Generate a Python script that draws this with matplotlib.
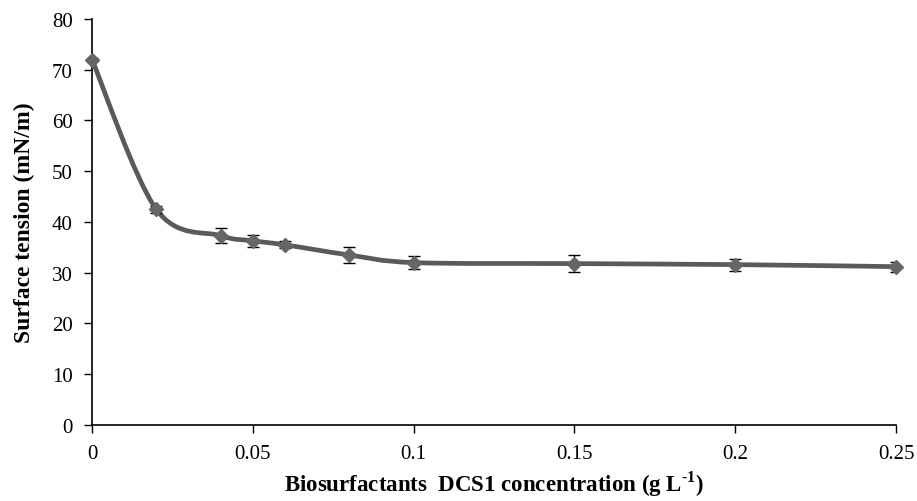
import matplotlib.pyplot as plt
import numpy as np
from matplotlib.path import Path
from matplotlib.patches import PathPatch

# Surface tension vs biosurfactant concentration
conc = [0.0, 0.02, 0.04, 0.05, 0.06, 0.08, 0.10, 0.15, 0.20, 0.25]
tension = [72.0, 42.5, 37.3, 36.3, 35.5, 33.5, 32.0, 31.8, 31.6, 31.2]
err = [0.3, 0.7, 1.5, 1.2, 0.7, 1.5, 1.2, 1.6, 1.2, 1.0]

xticks = [0, 0.05, 0.1, 0.15, 0.2, 0.25]
xticklabels = ["0", "0.05", "0.1", "0.15", "0.2", "0.25"]
yticks = list(range(0, 90, 10))

plt.rcParams["font.family"] = ["Liberation Serif", "DejaVu Serif"]
plt.rcParams["mathtext.fontset"] = "custom"
plt.rcParams["mathtext.bf"] = "Liberation Serif:bold"
plt.rcParams["mathtext.rm"] = "Liberation Serif:bold"

LINE = "#5a5a5a"


def smooth_path(x, y, k=1 / 6):
    """Excel-style smoothed line: cubic Bezier through the points."""
    x = np.asarray(x)
    y = np.asarray(y)
    verts = [(x[0], y[0])]
    codes = [Path.MOVETO]
    n = len(x)
    for i in range(n - 1):
        x0, y0 = (x[i - 1], y[i - 1]) if i > 0 else (x[i], y[i])
        x3, y3 = (x[i + 2], y[i + 2]) if i + 2 < n else (x[i + 1], y[i + 1])
        c1 = (x[i] + (x[i + 1] - x0) * k, y[i] + (y[i + 1] - y0) * k)
        c2 = (x[i + 1] - (x3 - x[i]) * k, y[i + 1] - (y3 - y[i]) * k)
        verts += [c1, c2, (x[i + 1], y[i + 1])]
        codes += [Path.CURVE4] * 3
    return Path(verts, codes)


fig = plt.figure(figsize=(9.17, 5.02), dpi=100)
ax = fig.add_axes([0.1003, 0.1514, 0.8768, 0.8088])

ax.add_patch(PathPatch(smooth_path(conc, tension), facecolor="none",
                       edgecolor=LINE, lw=3.4, capstyle="round", zorder=2))
ax.errorbar(conc, tension, yerr=err, fmt="none", ecolor="black",
            elinewidth=1.0, capsize=4, capthick=1.0, zorder=3)
ax.plot(conc, tension, ls="none", marker="D", ms=7, color="#666666",
        mec="#666666", zorder=4, clip_on=False)

ax.set_xlim(0, 0.25)
ax.set_ylim(0, 80)
ax.set_xticks(xticks)
ax.set_xticklabels(xticklabels)
ax.set_yticks(yticks)
ax.tick_params(direction="out", length=6, width=1, labelsize=15, pad=8)

for side in ("top", "right"):
    ax.spines[side].set_visible(False)
for side in ("left", "bottom"):
    ax.spines[side].set_linewidth(1.2)
    ax.spines[side].set_color("black")

ax.set_ylabel("Surface tension (mN/m)", fontsize=17, fontweight="bold", labelpad=12)
ax.set_xlabel(r"Biosurfactants  DCS1 concentration (g L$^{\text{-}1}$)",
              fontsize=16.5, fontweight="bold")
ax.xaxis.set_label_coords(0.5, -0.108)

fig.savefig("out.png", dpi=100)
